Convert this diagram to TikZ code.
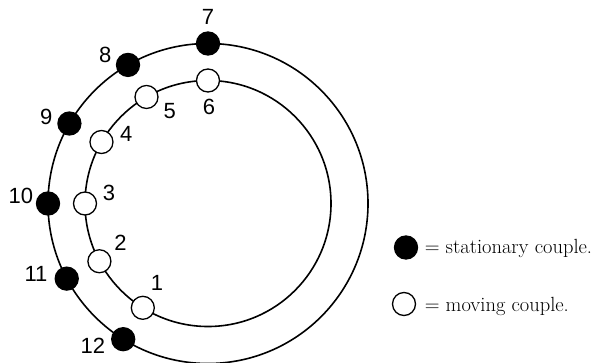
\documentclass[tikz,border=0pt]{standalone}
\usepackage{fontspec}
\usepackage{tikz}
\usetikzlibrary{calc}
\newfontfamily\numfont{Liberation Sans}
\newcommand{\outerr}{160}
\newcommand{\innerr}{123}
\newcommand{\dotsize}{23pt}

\begin{document}
\begin{tikzpicture}[x=1pt, y=1pt, line width=1.6pt]
                %\draw[help lines, step=10] (0,0) grid (601,362);
                \useasboundingbox (0,0) rectangle (601,362);
                \tikzset{couple/.style = {circle, draw, line width=1.3pt, minimum size=\dotsize, inner sep=0pt},
                         still/.style = {couple, fill=black},
                         moving/.style = {couple, fill=white},
                         num/.style = {font=\numfont\fontsize{22}{22}\selectfont, inner sep=0pt},
                         legend/.style = {font=\fontsize{20.5}{20.5}\selectfont, anchor=base west, inner sep=0pt}}

                \coordinate (c) at (208,158.5);
                \draw (c) circle (\outerr);
                \draw (c) circle (\innerr);

                \begin{scope}
                    \foreach \a/\n/\la/\ld in {90/7/90/27, 120/8/156/25, 150/9/165/24, 180/10/165/28, 208/11/172/31, 238/12/192/31}{
                        \node[still] (s\n) at ($(c)+(\a:\outerr)$) {};
                        \node[num] (l\n) at ($(s\n)+(\la:\ld)$) {\n};
                    }
                \end{scope}
                \begin{scope}
                    \foreach \a/\n/\la/\ld in {90/6/-88/26, 120/5/-31/27, 150/4/18/26, 180/3/23/26, 208/2/41/28, 238/1/61/29}{
                        \node[moving] (m\n) at ($(c)+(\a:\innerr)$) {};
                        \node[num] (l\n) at ($(m\n)+(\la:\ld)$) {\n};
                    }
                \end{scope}

                \node[still] (key1) at (406,114.5) {};
                \node[moving] (key2) at (404,58) {};
                \node[legend] (t1) at (424,109) {= stationary couple.};
                \node[legend] (t2) at (424,50.5) {= moving couple.};
        \end{tikzpicture}
\end{document}
